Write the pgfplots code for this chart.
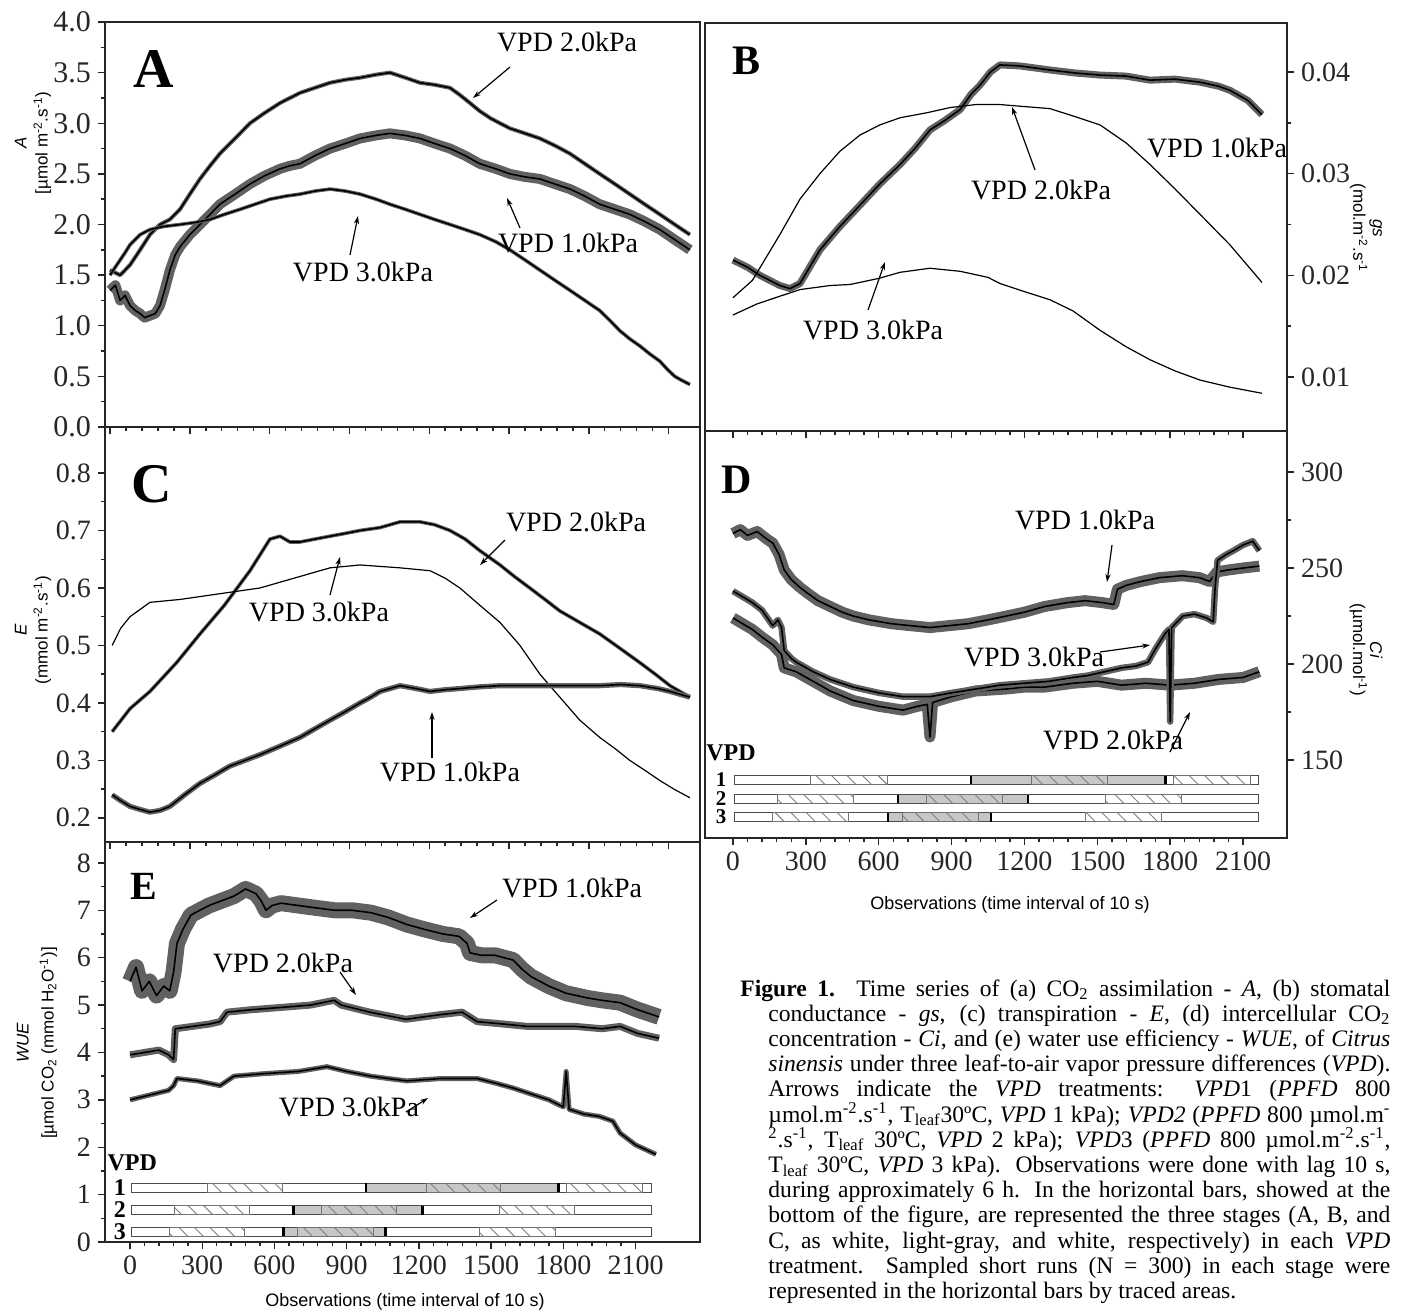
\documentclass[border=0pt]{standalone}
\usepackage{fontspec}
\setmainfont{Liberation Serif}
\setsansfont{Liberation Sans}
\usepackage{pgfplots}
\pgfplotsset{compat=1.18}
\usetikzlibrary{arrows.meta,patterns.meta}

\pgfplotsset{
  panel/.style={
    scale only axis, anchor=north west, scaled ticks=false,
    axis line style={black!85, line width=0.9pt},
    tick style={black!85, line width=0.7pt},
    major tick length=3.5pt, minor tick length=2pt,
    tick align=outside, xtick pos=bottom,
    tick label style={font=\fontsize{14}{14}\selectfont, text=black!85},
    xtick={0,300,...,2100}, minor x tick num=4, xticklabels={},
    minor y tick num=1,
  },
  thin/.style={black, line width=0.6pt},
  noisy/.style={black, line width=0.8pt, line join=round,
    preaction={draw=black!62, line width=#1}},
  bw/.style={draw=black!70, fill=white, line width=0.6pt},
  bg/.style={draw=black!70, fill=black!22, line width=0.6pt},
  bh/.style={draw=black!55, line width=0.5pt,
    pattern={Lines[angle=-45,distance=5.5pt,line width=0.45pt]}, pattern color=black!50},
  sep/.style={black, line width=1.3pt},
}
\tikzset{rowlab/.style={font=\bfseries\fontsize{12}{12}\selectfont, inner sep=0},
         rowlabs/.style={font=\bfseries\fontsize{10.5}{10.5}\selectfont, inner sep=0}}
\newcommand\rect[5][]{\addplot[#1] coordinates {(#2,#4) (#3,#4) (#3,#5) (#2,#5)} -- cycle;}

\begin{document}
\begin{tikzpicture}
\useasboundingbox (0pt,0pt) rectangle (700.5pt,-656.5pt);

% ---------- A ----------
\begin{axis}[panel, at={(52.5pt,-11pt)}, width=297.5pt, height=202.5pt,
  xmin=-19, xmax=2218, ymin=0, ymax=4, ytick pos=left,
  ytick={0,0.5,1,1.5,2,2.5,3,3.5,4},
  yticklabels={0.0,0.5,1.0,1.5,2.0,2.5,3.0,3.5,4.0},
  yticklabel style={font=\fontsize{15}{15}\selectfont}]
% VPD 2.0
\addplot[noisy=2pt] coordinates {(0,1.55) (38,1.5) (75,1.6) (113,1.75) (150,1.9) (188,2.0) (225,2.05) (263,2.15) (300,2.3) (338,2.45) (376,2.58) (413,2.7) (470,2.85) (526,3.0) (580,3.1) (639,3.2) (714,3.3) (770,3.35) (827,3.4) (885,3.43) (940,3.45) (1000,3.48) (1052,3.5) (1110,3.45) (1165,3.4) (1220,3.38) (1278,3.35) (1315,3.28) (1353,3.2) (1390,3.12) (1430,3.05) (1466,3.0) (1503,2.95) (1560,2.9) (1616,2.85) (1672,2.78) (1729,2.7) (1785,2.6) (1841,2.5) (1898,2.4) (1954,2.3) (2010,2.2) (2067,2.1) (2123,2.0) (2180,1.9)};
% VPD 1.0
\addplot[noisy=5pt] coordinates {(0,1.35) (20,1.4) (38,1.25) (56,1.3) (75,1.2) (95,1.15) (113,1.12) (130,1.08) (150,1.1) (170,1.12) (188,1.2) (205,1.35) (225,1.55) (245,1.7) (263,1.78) (300,1.9) (338,2.0) (376,2.1) (413,2.2) (470,2.3) (526,2.4) (580,2.48) (639,2.55) (676,2.58) (714,2.6) (770,2.68) (827,2.75) (885,2.8) (940,2.85) (1000,2.88) (1052,2.9) (1110,2.88) (1165,2.85) (1220,2.8) (1278,2.75) (1335,2.68) (1390,2.6) (1450,2.55) (1503,2.5) (1560,2.47) (1616,2.45) (1672,2.4) (1729,2.35) (1785,2.28) (1841,2.2) (1898,2.15) (1954,2.1) (2010,2.03) (2067,1.95) (2123,1.85) (2180,1.75)};
% VPD 3.0
\addplot[noisy=1.8pt] coordinates {(0,1.5) (20,1.58) (38,1.65) (56,1.72) (75,1.8) (113,1.9) (150,1.95) (200,1.98) (263,2.0) (320,2.02) (376,2.05) (430,2.1) (489,2.15) (545,2.2) (601,2.25) (660,2.28) (714,2.3) (770,2.33) (827,2.35) (885,2.33) (940,2.3) (1000,2.25) (1052,2.2) (1110,2.15) (1165,2.1) (1220,2.05) (1278,2.0) (1335,1.95) (1390,1.9) (1450,1.83) (1503,1.75) (1560,1.65) (1616,1.55) (1672,1.45) (1729,1.35) (1785,1.25) (1841,1.15) (1880,1.05) (1917,0.95) (1954,0.87) (1992,0.8) (2030,0.72) (2067,0.65) (2095,0.57) (2123,0.5) (2150,0.46) (2180,0.42)};
\end{axis}

% ---------- B ----------
\begin{axis}[panel, at={(352.5pt,-11.5pt)}, width=291pt, height=204pt,
  xmin=-115, xmax=2281, ymin=0.00469, ymax=0.04482,
  ytick pos=right, yticklabel pos=right,
  ytick={0.01,0.02,0.03,0.04}, yticklabels={0.01,0.02,0.03,0.04}]
% VPD 1.0
\addplot[noisy=3.5pt] coordinates {(0,0.0215) (60,0.0208) (111,0.0200) (193,0.0190) (235,0.0187) (276,0.0192) (358,0.0225) (440,0.0248) (523,0.0269) (605,0.0290) (688,0.0309) (750,0.0325) (811,0.0343) (870,0.0352) (935,0.0363) (980,0.0378) (1017,0.0387) (1060,0.0400) (1099,0.0407) (1180,0.0406) (1305,0.0402) (1410,0.0399) (1511,0.0397) (1617,0.0396) (1717,0.0392) (1820,0.0393) (1923,0.0390) (2000,0.0386) (2046,0.0382) (2120,0.0372) (2178,0.0358)};
% VPD 2.0
\addplot[thin] coordinates {(0,0.0178) (80,0.0195) (193,0.0240) (276,0.0275) (358,0.0300) (440,0.0322) (523,0.0338) (605,0.0348) (688,0.0355) (800,0.0360) (893,0.0365) (1000,0.0368) (1099,0.0368) (1200,0.0366) (1305,0.0364) (1410,0.0356) (1511,0.0348) (1620,0.0330) (1717,0.0309) (1820,0.0285) (1923,0.0260) (2046,0.0230) (2178,0.0193)};
% VPD 3.0
\addplot[thin] coordinates {(0,0.0161) (100,0.0172) (200,0.0180) (276,0.0186) (400,0.0190) (482,0.0191) (600,0.0197) (688,0.0203) (811,0.0207) (935,0.0204) (1050,0.0198) (1099,0.0192) (1200,0.0184) (1305,0.0176) (1400,0.0165) (1511,0.0146) (1617,0.0130) (1717,0.0117) (1820,0.0106) (1923,0.0097) (2046,0.0090) (2178,0.0084)};
\end{axis}

% ---------- C ----------
\begin{axis}[panel, at={(52.5pt,-213.5pt)}, width=297.5pt, height=207.5pt,
  xmin=-19, xmax=2218, ymin=0.158, ymax=0.88, ytick pos=left,
  ytick={0.2,0.3,0.4,0.5,0.6,0.7,0.8},
  yticklabels={0.2,0.3,0.4,0.5,0.6,0.7,0.8}]
% VPD 2.0
\addplot[noisy=1.8pt] coordinates {(8,0.35) (75,0.39) (150,0.42) (250,0.47) (338,0.52) (430,0.57) (526,0.63) (601,0.685) (639,0.69) (676,0.68) (714,0.68) (770,0.685) (827,0.69) (885,0.695) (940,0.70) (1015,0.705) (1090,0.715) (1165,0.715) (1220,0.71) (1278,0.70) (1335,0.685) (1390,0.665) (1466,0.64) (1520,0.62) (1578,0.60) (1635,0.58) (1691,0.56) (1766,0.54) (1841,0.52) (1917,0.495) (1992,0.47) (2050,0.45) (2105,0.43) (2180,0.41)};
% VPD 3.0
\addplot[thin] coordinates {(8,0.50) (40,0.53) (75,0.55) (150,0.575) (263,0.58) (413,0.59) (564,0.60) (714,0.62) (827,0.635) (940,0.64) (1090,0.635) (1203,0.63) (1260,0.617) (1315,0.60) (1390,0.57) (1466,0.54) (1541,0.50) (1616,0.45) (1691,0.41) (1766,0.37) (1841,0.34) (1900,0.32) (1954,0.30) (2010,0.283) (2067,0.265) (2120,0.25) (2180,0.235)};
% VPD 1.0
\addplot[noisy=2.6pt] coordinates {(8,0.24) (40,0.23) (75,0.22) (110,0.215) (150,0.21) (188,0.213) (225,0.22) (280,0.24) (338,0.26) (395,0.275) (450,0.29) (507,0.30) (564,0.31) (640,0.325) (714,0.34) (770,0.355) (827,0.37) (885,0.385) (940,0.40) (980,0.41) (1015,0.42) (1090,0.43) (1150,0.425) (1203,0.42) (1260,0.423) (1315,0.425) (1390,0.428) (1466,0.43) (1541,0.43) (1616,0.43) (1729,0.43) (1841,0.43) (1920,0.432) (1992,0.43) (2060,0.425) (2105,0.42) (2180,0.41)};
\end{axis}

% ---------- D ----------
\begin{axis}[panel, at={(352.5pt,-215.5pt)}, width=291pt, height=203.5pt,
  xmin=-115, xmax=2281, ymin=109.4, ymax=321.35,
  ytick pos=right, yticklabel pos=right,
  ytick={150,200,250,300}, yticklabels={150,200,250,300},
  xticklabels={0,300,600,900,1200,1500,1800,2100}]
% VPD 1.0
\addplot[noisy=5.5pt] coordinates {(0,268) (30,270) (60,267) (100,269) (140,265) (164,263) (190,257) (211,249) (240,244) (275,240) (306,237) (350,233) (400,230) (450,227) (495,225) (560,223) (653,221) (730,220) (811,219) (890,220) (968,221) (1050,223) (1126,225) (1200,227) (1284,230) (1378,232) (1450,233) (1520,232) (1568,231) (1583,239) (1620,241) (1680,243) (1757,245) (1850,246) (1920,245) (1962,243) (1993,248) (2040,249) (2100,250) (2167,251)};
% VPD 2.0
\addplot[noisy=5.5pt] coordinates {(0,224) (40,221) (80,218) (120,214) (164,210) (200,205) (211,198) (260,196) (330,191) (400,186) (495,181) (600,178) (700,176) (760,178) (800,179) (811,162) (822,180) (900,183) (1000,186) (1126,187) (1200,188) (1284,188) (1400,190) (1500,191) (1600,189) (1700,190) (1800,189) (1900,190) (2000,192) (2100,193) (2167,196)};
% VPD 3.0
\addplot[noisy=3.2pt] coordinates {(0,238) (40,235) (80,232) (120,228) (164,220) (185,223) (200,219) (211,207) (240,203) (260,201) (330,196) (400,192) (495,188) (600,185) (700,183) (811,183) (900,185) (1000,187) (1100,189) (1200,190) (1300,191) (1400,193) (1460,194) (1530,196) (1600,198) (1660,199) (1709,201) (1740,208) (1780,216) (1795,218) (1800,170) (1806,219) (1852,225) (1900,226) (1950,224) (1977,222) (1985,240) (1995,254) (2030,257) (2060,259) (2100,262) (2140,264) (2167,259)};
% stage bars
\rect[bw]{5}{2165}{137.3}{141.9} \rect[bg]{980}{1780}{137.3}{141.9}
\rect[bh]{320}{635}{137.3}{141.9} \rect[bh]{1230}{1540}{137.3}{141.9} \rect[bh]{1815}{2130}{137.3}{141.9}
\addplot[sep] coordinates {(980,137.3) (980,141.9)}; \addplot[sep] coordinates {(1780,137.3) (1780,141.9)};
\rect[bw]{5}{2165}{127.4}{132} \rect[bg]{680}{1215}{127.4}{132}
\rect[bh]{183}{498}{127.4}{132} \rect[bh]{796}{1108}{127.4}{132} \rect[bh]{1533}{1846}{127.4}{132}
\addplot[sep] coordinates {(680,127.4) (680,132)}; \addplot[sep] coordinates {(1215,127.4) (1215,132)};
\rect[bw]{5}{2165}{118}{122.6} \rect[bg]{638}{1062}{118}{122.6}
\rect[bh]{163}{476}{118}{122.6} \rect[bh]{697}{1010}{118}{122.6} \rect[bh]{1452}{1766}{118}{122.6}
\addplot[sep] coordinates {(638,118) (638,122.6)}; \addplot[sep] coordinates {(1062,118) (1062,122.6)};
\node[anchor=west, rowlab] at (axis cs:-111,153.6) {VPD};
\node[rowlabs] at (axis cs:-49,139.6) {1};
\node[rowlabs] at (axis cs:-49,129.7) {2};
\node[rowlabs] at (axis cs:-49,120.3) {3};
\end{axis}

% ---------- E ----------
\begin{axis}[panel, at={(52.5pt,-421pt)}, width=297.5pt, height=200pt,
  xmin=-104, xmax=2368, ymin=0, ymax=8.44, ytick pos=left,
  ytick={0,1,2,3,4,5,6,7,8}, yticklabels={0,1,2,3,4,5,6,7,8},
  xticklabels={0,300,600,900,1200,1500,1800,2100}]
% VPD 1.0
\addplot[noisy=8pt] coordinates {(0,5.5) (25,5.8) (50,5.3) (80,5.5) (110,5.2) (140,5.4) (165,5.3) (181,5.7) (195,6.3) (220,6.6) (253,6.9) (290,7.0) (328,7.1) (380,7.2) (432,7.3) (480,7.45) (523,7.35) (545,7.2) (565,7.0) (590,7.1) (627,7.15) (700,7.1) (773,7.05) (850,7.0) (922,7.0) (1000,6.95) (1072,6.85) (1150,6.7) (1221,6.6) (1300,6.5) (1367,6.45) (1400,6.3) (1413,6.1) (1460,6.05) (1516,6.05) (1591,5.95) (1630,5.75) (1666,5.6) (1740,5.4) (1811,5.25) (1900,5.15) (1961,5.1) (2036,5.05) (2110,4.9) (2198,4.75)};
% VPD 2.0
\addplot[noisy=3.5pt] coordinates {(0,3.95) (60,4.0) (120,4.05) (160,3.95) (181,3.85) (188,4.5) (260,4.55) (330,4.6) (374,4.65) (403,4.85) (500,4.9) (627,4.95) (750,5.0) (848,5.1) (877,5.0) (996,4.85) (1146,4.7) (1292,4.8) (1380,4.85) (1442,4.65) (1550,4.6) (1650,4.55) (1740,4.55) (1850,4.55) (1961,4.5) (2036,4.55) (2110,4.4) (2198,4.3)};
% VPD 3.0
\addplot[noisy=2.5pt] coordinates {(0,3.0) (80,3.1) (160,3.2) (181,3.3) (195,3.45) (280,3.4) (374,3.3) (432,3.5) (550,3.55) (700,3.6) (818,3.7) (900,3.6) (1000,3.5) (1072,3.45) (1150,3.4) (1292,3.45) (1442,3.45) (1520,3.35) (1591,3.25) (1680,3.1) (1740,3.0) (1800,2.85) (1812,3.6) (1824,2.8) (1886,2.7) (1950,2.65) (2006,2.55) (2036,2.3) (2100,2.05) (2185,1.85)};
% stage bars
\rect[bw]{5}{2165}{1.05}{1.24} \rect[bg]{980}{1780}{1.05}{1.24}
\rect[bh]{320}{635}{1.05}{1.24} \rect[bh]{1230}{1540}{1.05}{1.24} \rect[bh]{1815}{2130}{1.05}{1.24}
\addplot[sep] coordinates {(980,1.05) (980,1.24)}; \addplot[sep] coordinates {(1780,1.05) (1780,1.24)};
\rect[bw]{5}{2165}{0.58}{0.77} \rect[bg]{680}{1215}{0.58}{0.77}
\rect[bh]{183}{498}{0.58}{0.77} \rect[bh]{796}{1108}{0.58}{0.77} \rect[bh]{1533}{1846}{0.58}{0.77}
\addplot[sep] coordinates {(680,0.58) (680,0.77)}; \addplot[sep] coordinates {(1215,0.58) (1215,0.77)};
\rect[bw]{5}{2165}{0.12}{0.31} \rect[bg]{638}{1062}{0.12}{0.31}
\rect[bh]{163}{476}{0.12}{0.31} \rect[bh]{697}{1010}{0.12}{0.31} \rect[bh]{1452}{1766}{0.12}{0.31}
\addplot[sep] coordinates {(638,0.12) (638,0.31)}; \addplot[sep] coordinates {(1062,0.12) (1062,0.31)};
\node[anchor=west, rowlab] at (axis cs:-95,1.67) {VPD};
\node[rowlab] at (axis cs:-42,1.146) {1};
\node[rowlab] at (axis cs:-42,0.675) {2};
\node[rowlab] at (axis cs:-42,0.217) {3};
\end{axis}

% ---------- texts, in pixel units of the reference ----------
\begin{scope}[x=0.5pt, y=-0.5pt]
\tikzset{lab/.style={font=\fontsize{14}{14}\selectfont, inner sep=0},
         arr/.style={-{Stealth[length=4pt,width=2.6pt]}, line width=0.6pt}}
\node[font=\bfseries\fontsize{28}{28}\selectfont] at (154,69) {A};
\node[font=\bfseries\fontsize{21}{21}\selectfont] at (746,61) {B};
\node[font=\bfseries\fontsize{28}{28}\selectfont] at (152,484) {C};
\node[font=\bfseries\fontsize{21}{21}\selectfont] at (737,480) {D};
\node[font=\bfseries\fontsize{20}{20}\selectfont] at (144,886) {E};
% A
\node[lab] at (567,42) {VPD 2.0kPa}; \draw[arr] (510,67) -- (473,98);
\node[lab] at (568,243) {VPD 1.0kPa}; \draw[arr] (520,228) -- (507,198);
\node[lab] at (363,272) {VPD 3.0kPa}; \draw[arr] (350,255) -- (358,216);
% B
\node[lab] at (1217,148) {VPD 1.0kPa};
\node[lab] at (1041,190) {VPD 2.0kPa}; \draw[arr] (1035,170) -- (1012,107);
\node[lab] at (873,330) {VPD 3.0kPa}; \draw[arr] (868,310) -- (885,262);
% C
\node[lab] at (576,522) {VPD 2.0kPa}; \draw[arr] (505,540) -- (480,565);
\node[lab] at (319,612) {VPD 3.0kPa}; \draw[arr] (330,595) -- (340,557);
\node[lab] at (450,772) {VPD 1.0kPa}; \draw[arr] (432,758) -- (432,712);
% D
\node[lab] at (1085,520) {VPD 1.0kPa}; \draw[arr] (1112,545) -- (1107,582);
\node[lab] at (1034,657) {VPD 3.0kPa}; \draw[arr] (1100,652) -- (1150,645);
\node[lab] at (1113,740) {VPD 2.0kPa}; \draw[arr] (1170,752) -- (1190,712);
% E
\node[lab] at (572,888) {VPD 1.0kPa}; \draw[arr] (497,900) -- (470,918);
\node[lab] at (283,963) {VPD 2.0kPa}; \draw[arr] (340,972) -- (356,995);
\node[lab] at (349,1107) {VPD 3.0kPa}; \draw[arr] (406,1112) -- (428,1098);
% axis titles
\node[rotate=90, align=center, font=\sffamily\fontsize{8.5}{10.5}\selectfont] at (33,143)
  {\textit{A}\\{[}µmol m\textsuperscript{-2}.s\textsuperscript{-1})};
\node[rotate=90, align=center, font=\sffamily\fontsize{8.5}{10.5}\selectfont] at (33,630)
  {\textit{E}\\(mmol m\textsuperscript{-2}.s\textsuperscript{-1})};
\node[rotate=90, align=center, font=\sffamily\fontsize{8.5}{12.5}\selectfont] at (37,1043)
  {\textit{WUE}\\{[}µmol CO\textsubscript{2} (mmol H\textsubscript{2}O\textsuperscript{-1})]};
\node[rotate=-90, align=center, font=\sffamily\fontsize{8.5}{8.5}\selectfont] at (1366,228)
  {\textit{gs}\\(mol.m\textsuperscript{-2}.s\textsuperscript{-1}};
\node[rotate=-90, align=center, font=\sffamily\fontsize{8.5}{8.5}\selectfont] at (1366,650)
  {\textit{Ci}\\(µmol.mol\textsuperscript{-1})};
\node[font=\sffamily\fontsize{9}{9}\selectfont] at (405,1302) {Observations (time interval of 10 s)};
\node[font=\sffamily\fontsize{9}{9}\selectfont] at (1010,905) {Observations (time interval of 10 s)};
% caption
\node[anchor=base west, inner sep=0] at (740,996) {\parbox[t]{325pt}{\fontsize{11.8}{12.6}\selectfont
\makebox[325pt][s]{\textbf{Figure 1.} Time series of (a) CO\textsubscript{2} assimilation - \textit{A}, (b) stomatal}\\
\hspace*{14pt}\makebox[311pt][s]{conductance - \textit{gs}, (c) transpiration - \textit{E}, (d) intercellular CO\textsubscript{2}}\\
\hspace*{14pt}\makebox[311pt][s]{concentration - \textit{Ci}, and (e) water use efficiency - \textit{WUE}, of \textit{Citrus}}\\
\hspace*{14pt}\makebox[311pt][s]{\textit{sinensis} under three leaf-to-air vapor pressure differences (\textit{VPD}).}\\
\hspace*{14pt}\makebox[311pt][s]{Arrows indicate the \textit{VPD} treatments: \textit{VPD}1 (\textit{PPFD} 800}\\
\hspace*{14pt}\makebox[311pt][s]{µmol.m\textsuperscript{-2}.s\textsuperscript{-1}, T\textsubscript{leaf}30ºC, \textit{VPD} 1 kPa); \textit{VPD2} (\textit{PPFD} 800 µmol.m\textsuperscript{-}}\\
\hspace*{14pt}\makebox[311pt][s]{\textsuperscript{2}.s\textsuperscript{-1}, T\textsubscript{leaf} 30ºC, \textit{VPD} 2 kPa); \textit{VPD}3 (\textit{PPFD} 800 µmol.m\textsuperscript{-2}.s\textsuperscript{-1},}\\
\hspace*{14pt}\makebox[311pt][s]{T\textsubscript{leaf} 30ºC, \textit{VPD} 3 kPa). Observations were done with lag 10 s,}\\
\hspace*{14pt}\makebox[311pt][s]{during approximately 6 h. In the horizontal bars, showed at the}\\
\hspace*{14pt}\makebox[311pt][s]{bottom of the figure, are represented the three stages (A, B, and}\\
\hspace*{14pt}\makebox[311pt][s]{C, as white, light-gray, and white, respectively) in each \textit{VPD}}\\
\hspace*{14pt}\makebox[311pt][s]{treatment. Sampled short runs (N = 300) in each stage were}\\
\hspace*{14pt}represented in the horizontal bars by traced areas.}};
\end{scope}
\end{tikzpicture}
\end{document}
